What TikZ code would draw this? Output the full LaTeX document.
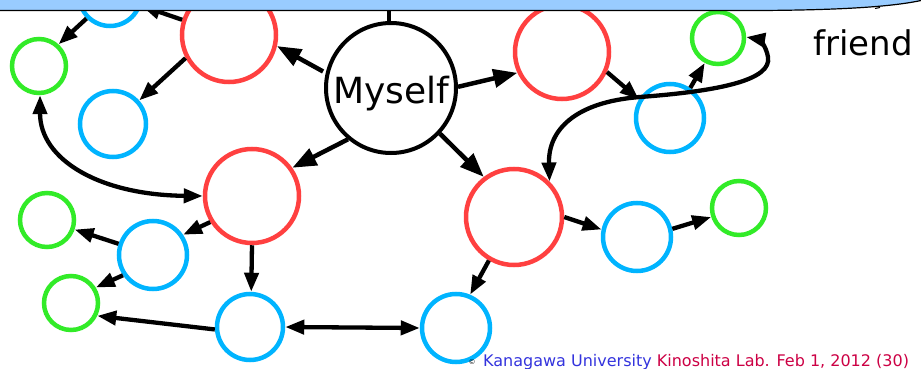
\documentclass[tikz,border=0pt]{standalone}
\usepackage{fontspec}
\setmainfont{DejaVu Sans}
\usetikzlibrary{arrows.meta}
\definecolor{nodered}{RGB}{255,64,64}
\definecolor{nodeblue}{RGB}{0,180,255}
\definecolor{nodegreen}{RGB}{50,235,40}
\definecolor{bannerblue}{RGB}{153,204,255}
\definecolor{labblue}{RGB}{51,51,221}
\definecolor{labred}{RGB}{204,0,68}

\begin{document}
\begin{tikzpicture}[x=1pt,y=-1pt,
  >={Triangle[length=19pt,width=14pt]},
  ring/.style={circle,draw,line width=4.5pt,inner sep=0pt,minimum size=#1},
  redring/.style={ring=#1,draw=nodered},
  redring/.default=94pt,
  bluering/.style={ring=#1,draw=nodeblue},
  bluering/.default=68pt,
  greenring/.style={ring=#1,draw=nodegreen},
  greenring/.default=54pt,
  selfring/.style={circle,draw=black,line width=4pt,inner sep=0pt,minimum size=130pt},
  link/.style={line width=4.3pt,->},
  biglink/.style={line width=4.5pt,-{Triangle[length=24pt,width=18pt]}},
  twoway/.style={line width=4.3pt,<->},
  bigtext/.style={inner sep=0pt,font=\fontsize{#1}{#1}\selectfont},
]
\useasboundingbox (0,0) rectangle (921,369);

% people
\node[selfring] (myself) at (391,88) {};
\node[bigtext=36,anchor=base] (myselftext) at (391,103) {Myself};

\node[redring] (redTL) at (229,35) {};
\node[redring] (redTR) at (562,52) {};
\node[redring] (redML) at (252,196) {};
\node[redring=96pt] (redMR) at (514,217) {};

\node[bluering=62pt] (blueTL) at (110,-5) {};
\node[bluering=66pt] (blueL) at (113,124) {};
\node[bluering] (blueML) at (153,255) {};
\node[bluering=66pt] (blueBL) at (250,327) {};
\node[bluering] (blueBM) at (456,328) {};
\node[bluering] (blueMR) at (637,237) {};
\node[bluering] (blueTR) at (670,118) {};

\node[greenring] (greenL) at (39,66) {};
\node[greenring] (greenLM) at (47,220) {};
\node[greenring] (greenLL) at (71,303) {};
\node[greenring] (greenR) at (739,208) {};
\node[greenring=52pt] (greenTR) at (718,38) {};

% who knows whom
\draw[biglink,shorten <=3pt] (myself.167) -- (redTL.347);
\draw[biglink] (myself.1) -- (redTR.205);
\draw[biglink] (myself.230) -- (redML.35);
\draw[biglink] (myself.317) -- (redMR.127);

\draw[link] (redTL.162) -- (blueTL.341);
\draw[link] (blueTL.225) -- (greenL.48);
\draw[link] (redTL.208) -- (blueL.42);

\draw[link] (redML.212) -- (blueML.34);
\draw[link] (redML.270) -- (blueBL.88);
\draw[link] (blueML.162) -- (greenLM.341);
\draw[link] (blueML.214) -- (greenLL.32);
\draw[link] (blueBL.184) -- (greenLL.334);
\draw[twoway] (blueBL.0) -- (blueBM.180);

\draw[link] (redMR.240) -- (blueBM.67);
\draw[link] (redMR.0) -- (blueMR.168);
\draw[link] (blueMR.13) -- (greenR.198);

\draw[link] (redTR.336) -- (blueTR.149);
\draw[link] (blueTR.56) -- (greenTR.242);

\draw[twoway] (redMR.45) .. controls (548,130) and (575,102) .. (640,97)
  .. controls (720,91) and (772,80) .. (768,57)
  .. controls (766,45) and (758,39) .. (greenTR.2);
\draw[twoway] (greenL.272) .. controls (40,160) and (100,195) .. (redML.180);

% labels
\node[bigtext=34,anchor=base west] (friendtext) at (813,56) {friend};
\node[bigtext=7,anchor=base] (copymark) at (472,364) {©};
\node[bigtext=16,anchor=base west] (credit) at (483,366)
  {\textcolor{labblue}{Kanagawa University} \textcolor{labred}{Kinoshita Lab. Feb 1, 2012 (30)}};

% callout banner along the top edge
\fill[bannerblue] (0,-1) -- (0,10.5) -- (760,10.5) .. controls (850,10) and (895,6) .. (921,0.5) -- (921,-1) -- cycle;
\draw[line width=1.2pt] (0,10.5) -- (760,10.5) .. controls (850,10) and (895,6) .. (921,0.5);
\draw[line width=1pt] (875,8.5) -- (880,7.5);
\coordinate (stem) at (389,10.5);
\draw[line width=3.5pt] (myself.north -| stem) -- (stem);
\end{tikzpicture}
\end{document}
